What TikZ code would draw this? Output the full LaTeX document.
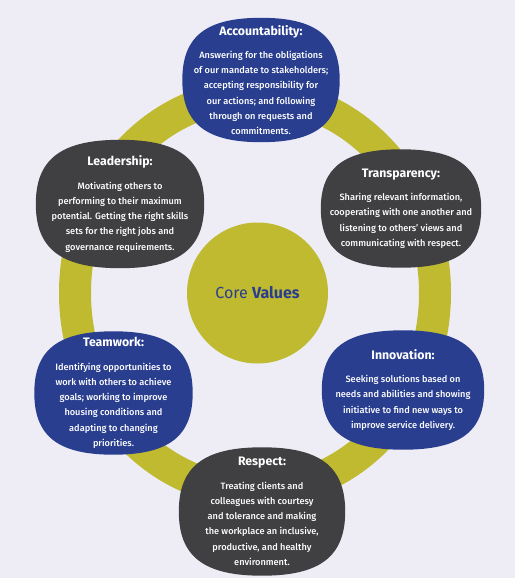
\documentclass[tikz,border=0pt]{standalone}
\usepackage{fontspec}
\setmainfont{Fira Sans}[UprightFont={* Medium}, BoldFont={* Bold}]
\newfontfamily\corefont{Fira Sans}
\usepackage{tikz}
\usetikzlibrary{positioning, calc, backgrounds}
\definecolor{cvblue}{RGB}{41,62,143}
\definecolor{cvdark}{RGB}{64,64,66}
\definecolor{cvolive}{RGB}{191,186,48}
\definecolor{cvback}{RGB}{238,237,246}
\tikzstyle{valuebox} = [rectangle, inner sep=0pt, text=white, align=center, font=\fontsize{9.2}{15.3}\selectfont]
\tikzstyle{ring} = [draw=cvolive, line width=32pt]
\newcommand{\valueblob}[2]{%
  \fill [#2] (#1.east) .. controls ($(#1.east)!0.7!(#1.north east)$) and ($(#1.north)!0.7!(#1.north east)$) .. (#1.north)
    .. controls ($(#1.north)!0.7!(#1.north west)$) and ($(#1.west)!0.7!(#1.north west)$) .. (#1.west)
    .. controls ($(#1.west)!0.7!(#1.south west)$) and ($(#1.south)!0.7!(#1.south west)$) .. (#1.south)
    .. controls ($(#1.south)!0.7!(#1.south east)$) and ($(#1.east)!0.7!(#1.south east)$) .. (#1.east) -- cycle;}

\begin{document}
\begin{tikzpicture}[x=1pt, y=-1pt]
        % Latar
        \useasboundingbox (0,0) rectangle (515,578);

        % Inti
        \node (core) [circle, fill=cvolive, minimum size=141pt, text=cvblue, font=\corefont\fontsize{16}{19}\selectfont] at (257.5,293) {Core \textbf{Values}};

        % Nilai-nilai
        \node (acc) [valuebox, minimum width=157pt, minimum height=124pt] at (261,80) {{\fontsize{12.3}{14}\selectfont\textbf{Accountability:}}\\[8pt]Answering for the obligations\\of our mandate to stakeholders;\\accepting responsibility for\\our actions; and following\\through on requests and\\commitments.};
        \node (lead) [valuebox, minimum width=168pt, minimum height=128pt] at (120,204) {{\fontsize{12.3}{14}\selectfont\textbf{Leadership:}}\\[8pt]Motivating others to\\performing to their maximum\\potential. Getting the right skills\\sets for the right jobs and\\governance requirements.};
        \node (trans) [valuebox, minimum width=160pt, minimum height=118pt] at (401,208.5) {{\fontsize{12.3}{14}\selectfont\textbf{Transparency:}}\\[8pt]Sharing relevant information,\\cooperating with one another and\\listening to others' views and\\communicating with respect.};
        \node (team) [valuebox, minimum width=158pt, minimum height=123pt] at (113.5,393) {{\fontsize{12.3}{14}\selectfont\textbf{Teamwork:}}\\[8pt]Identifying opportunities to\\work with others to achieve\\goals; working to improve\\housing conditions and\\adapting to changing\\priorities.};
        \node (innov) [valuebox, minimum width=162pt, minimum height=119pt] at (403,390) {{\fontsize{12.3}{14}\selectfont\textbf{Innovation:}}\\[8pt]Seeking solutions based on\\needs and abilities and showing\\initiative to find new ways to\\improve service delivery.};
        \node (resp) [valuebox, minimum width=166pt, minimum height=128pt] at (262,511.5) {{\fontsize{12.3}{14}\selectfont\textbf{Respect:}}\\[8pt]Treating clients and\\colleagues with courtesy\\and tolerance and making\\the workplace an inclusive,\\productive, and healthy\\environment.};

        % Latar, cincin dan bentuk
        \begin{scope}[on background layer]
            \fill [cvback] (0,0) rectangle (515,578);
            \draw [ring] (255,293) ellipse [x radius=180, y radius=198];
            \valueblob{acc}{cvblue}
            \valueblob{lead}{cvdark}
            \valueblob{trans}{cvdark}
            \valueblob{team}{cvblue}
            \valueblob{innov}{cvblue}
            \valueblob{resp}{cvdark}
        \end{scope}
    \end{tikzpicture}
\end{document}
